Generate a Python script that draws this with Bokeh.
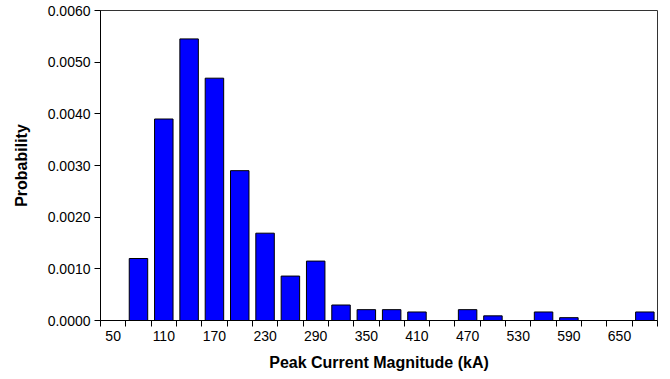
from bokeh.plotting import figure
from bokeh.models import FixedTicker, SingleIntervalTicker, PrintfTickFormatter, Range1d, ColumnDataSource
from bokeh.embed import file_html
from bokeh.resources import INLINE

# Data
bin_centers = [50, 80, 110, 140, 170, 200, 230, 260, 290, 320, 350, 380, 410, 440,
               470, 500, 530, 560, 590, 620, 650, 680]
probability = [0.0, 0.0012, 0.0039, 0.00545, 0.00469, 0.0029, 0.00169, 0.00086, 0.00115,
               0.0003, 0.00021, 0.00021, 0.000165, 0.0, 0.00021, 0.00009, 0.0, 0.000165,
               0.000055, 0.0, 0.0, 0.000165]
x_tick_labels = [50, 110, 170, 230, 290, 350, 410, 470, 530, 590, 650]
bin_width = 30

edges = [c - bin_width / 2 for c in bin_centers] + [bin_centers[-1] + bin_width / 2]

src = ColumnDataSource(dict(x=bin_centers, top=probability))

p = figure(width=670, height=379, output_backend="svg", toolbar_location=None,
           x_range=Range1d(edges[0], edges[-1]), y_range=Range1d(0, 0.006),
           min_border_left=100, min_border_right=13, min_border_top=10, min_border_bottom=59)

p.vbar(x="x", top="top", width=bin_width * 0.73, source=src,
       fill_color="#0000FF", line_color="black", line_width=1)

p.xgrid.visible = False
p.ygrid.visible = False
p.outline_line_color = "#333333"
p.outline_line_width = 1

FONT = "Liberation Sans"

xa = p.xaxis[0]
xa.ticker = FixedTicker(ticks=x_tick_labels, minor_ticks=edges)
xa.major_tick_line_color = None
xa.minor_tick_line_color = "black"
xa.minor_tick_out = 6
xa.minor_tick_in = 0
xa.major_label_standoff = 4
xa.axis_line_color = "black"
xa.major_label_text_font = FONT
xa.major_label_text_font_size = "14px"
xa.major_label_text_color = "black"
xa.axis_label = "Peak Current Magnitude (kA)"
xa.axis_label_text_font = FONT
xa.axis_label_text_font_size = "16px"
xa.axis_label_text_font_style = "bold"
xa.axis_label_text_color = "black"
xa.axis_label_standoff = 10

ya = p.yaxis[0]
ya.ticker = SingleIntervalTicker(interval=0.001, num_minor_ticks=0)
ya.formatter = PrintfTickFormatter(format="%.4f")
ya.major_tick_out = 6
ya.major_tick_in = 0
ya.minor_tick_line_color = None
ya.major_label_standoff = 4
ya.axis_line_color = "black"
ya.major_label_text_font = FONT
ya.major_label_text_font_size = "14px"
ya.major_label_text_color = "black"
ya.axis_label = "Probability"
ya.axis_label_text_font = FONT
ya.axis_label_text_font_size = "16px"
ya.axis_label_text_font_style = "bold"
ya.axis_label_text_color = "black"
ya.axis_label_standoff = 15

open("out.html", "w").write(file_html(p, INLINE))
